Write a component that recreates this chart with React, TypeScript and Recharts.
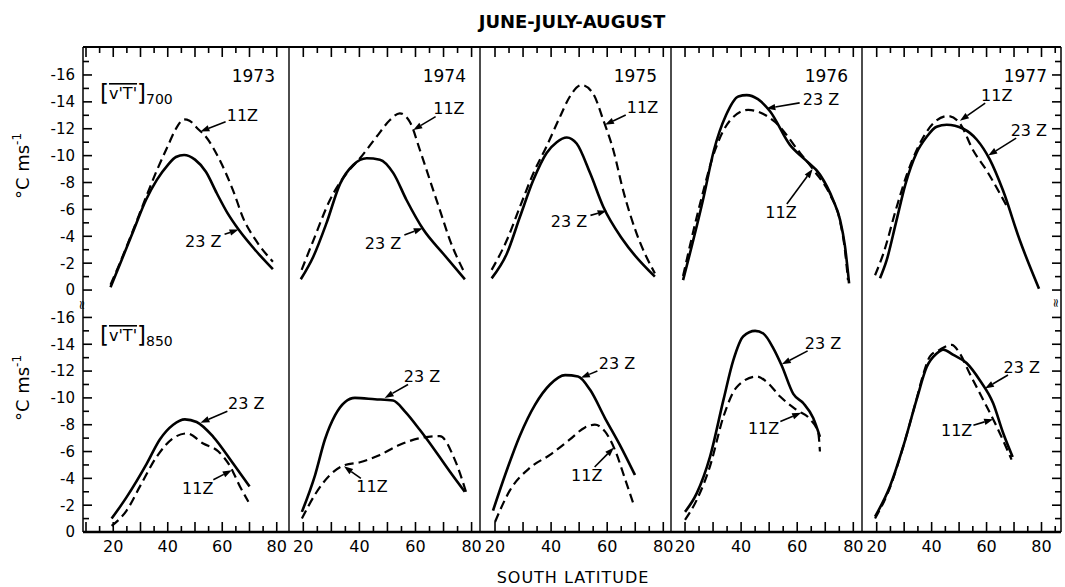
import React from 'react';
import { LineChart, Line, XAxis, YAxis, ReferenceLine } from 'recharts';

type Pt = [number, number];

// ---------- categories / labels ----------
const YEARS = ['1973', '1974', '1975', '1976', '1977'];
const LEVELS = ['700', '850'];
const X_TICK_LABELS = [20, 40, 60, 80];
const Y_TICK_LABELS = [-16, -14, -12, -10, -8, -6, -4, -2, 0];

// ---------- data: [south latitude, [v'T'] (°C m/s)] ----------
const V1973_700_23Z: Pt[] = [[19, -0.2], [22, -1.7], [27, -4.2], [32, -6.7], [36, -8.2], [40, -9.3], [43, -9.9], [46, -10.05], [50, -9.7], [54, -8.8], [58, -7.2], [62, -5.7], [66, -4.5], [72, -3.0], [78.6, -1.55]];
const V1973_700_11Z: Pt[] = [[19, -0.4], [22, -1.8], [27, -4.3], [32, -6.9], [36, -8.9], [40, -10.7], [43, -12.0], [46, -12.7], [48, -12.6], [51, -12.0], [54, -11.4], [59, -9.7], [64, -7.4], [68, -5.2], [72, -3.8], [78.6, -2.1]];
const V1973_850_23Z: Pt[] = [[19.4, -1.0], [24.9, -2.6], [32.3, -5.1], [37.1, -6.9], [42, -8.0], [46.3, -8.4], [50.6, -8.2], [56.7, -7.1], [64, -5.1], [70, -3.4]];
const V1973_850_11Z: Pt[] = [[19.4, -0.45], [24.9, -1.6], [29.8, -3.4], [35.9, -5.6], [42, -7.0], [47, -7.35], [53, -6.6], [58.6, -6.0], [62.9, -4.9], [66.5, -3.4], [69.6, -2.26]];

const V1974_700_23Z: Pt[] = [[19.1, -0.8], [23.6, -2.5], [28.3, -5.0], [33.1, -7.9], [37.8, -9.3], [42.6, -9.8], [47.3, -9.7], [52.1, -8.7], [56.8, -6.7], [62.8, -4.5], [69.9, -2.7], [77.6, -0.8]];
const V1974_700_11Z: Pt[] = [[19.4, -1.5], [23.6, -3.7], [29.5, -6.7], [35.5, -8.7], [40.2, -9.8], [46.1, -11.4], [50.9, -12.65], [54.4, -13.15], [58, -12.5], [61.6, -10.4], [65.1, -8.2], [68.7, -5.95], [72.3, -3.7], [77.6, -1.24]];
const V1974_850_23Z: Pt[] = [[19.5, -1.5], [24.2, -4.25], [27.7, -6.9], [31.3, -8.7], [34.9, -9.7], [38.4, -10.0], [45.5, -9.9], [52, -9.8], [56.2, -9.0], [61.6, -7.6], [66.9, -6.1], [72.3, -4.5], [77.6, -3.0]];
const V1974_850_11Z: Pt[] = [[19.5, -1.0], [24.2, -2.8], [29.5, -4.25], [34.9, -5.0], [40.2, -5.2], [47.3, -5.75], [54.4, -6.5], [61.6, -7.0], [68.7, -7.15], [74, -5.4], [78.3, -2.8]];

const V1975_700_23Z: Pt[] = [[18.8, -0.87], [24.2, -2.7], [28.9, -5.45], [33.7, -8.2], [38.4, -10.2], [42, -11.0], [45.6, -11.35], [49.1, -10.9], [53.9, -8.7], [58.6, -6.2], [65.7, -3.7], [77, -1.0]];
const V1975_700_11Z: Pt[] = [[18.8, -1.5], [24.2, -3.7], [28.9, -6.2], [33.7, -8.7], [38.4, -10.7], [43.2, -12.9], [46.7, -14.4], [50.9, -15.25], [55, -14.6], [58.6, -12.65], [62.2, -10.4], [65.7, -7.4], [70.5, -4.2], [77, -1.24]];
const V1975_850_23Z: Pt[] = [[19.3, -1.6], [23.6, -4.25], [28.9, -7.2], [34.3, -9.5], [39.6, -11.0], [45, -11.7], [49.6, -11.6], [53.9, -10.6], [59.2, -8.5], [64.5, -6.5], [69.9, -4.25]];
const V1975_850_11Z: Pt[] = [[20, -0.75], [25.3, -3.1], [32.5, -4.8], [39.6, -5.75], [46.7, -6.9], [52.1, -7.8], [55.6, -8.0], [59.2, -7.5], [62.8, -6.1], [66.3, -4.0], [69.2, -2.2]];

const V1976_700_23Z: Pt[] = [[19.3, -0.74], [26.4, -6.7], [30.3, -10.4], [34.6, -13.0], [39, -14.4], [42, -14.5], [46, -14.2], [50.3, -13.3], [57.4, -10.8], [62.8, -9.7], [68.1, -8.6], [72.8, -6.7], [75.3, -5.2], [77, -3.3], [78.5, -0.5]];
const V1976_700_11Z: Pt[] = [[19.3, -1.04], [25.7, -6.7], [30.7, -10.4], [36, -12.6], [42.5, -13.4], [52.1, -12.5], [61, -10.2], [66.3, -8.8], [71.7, -7.1], [75.3, -5.1], [77, -3.0], [78.1, -0.74]];
const V1976_850_23Z: Pt[] = [[20, -1.5], [24.2, -2.9], [28.9, -5.6], [33.7, -9.85], [37.2, -12.8], [40.8, -14.6], [45, -15.0], [47.9, -14.8], [51.5, -13.7], [54.5, -12.4], [58.6, -10.3], [62.2, -9.6], [65.7, -8.5], [68.1, -7.1]];
const V1976_850_11Z: Pt[] = [[20, -0.9], [24.2, -2.4], [28.9, -4.9], [33.7, -8.6], [38.4, -10.8], [45.6, -11.6], [49.1, -11.2], [53.9, -10.1], [59.8, -9.1], [64.6, -8.4], [67.5, -7.4], [68.1, -6.0]];

const V1977_700_23Z: Pt[] = [[21.2, -0.87], [23.6, -2.2], [27, -5.0], [30.5, -7.9], [34.5, -10.2], [38.2, -11.4], [41.8, -12.15], [45.5, -12.3], [51.5, -12.0], [56.4, -11.2], [61.2, -9.7], [66, -7.4], [72.1, -3.7], [79.1, -0.1]];
const V1977_700_11Z: Pt[] = [[19.4, -1.1], [22.4, -2.7], [27.3, -6.2], [31, -8.6], [35, -10.6], [40.6, -12.4], [46, -12.95], [50.3, -12.4], [55.1, -10.4], [60, -8.9], [64.8, -7.2], [68, -6.0]];
const V1977_850_23Z: Pt[] = [[19.4, -1.14], [24.8, -3.4], [29.7, -6.4], [34.5, -9.85], [38.2, -12.3], [41.8, -13.3], [44.2, -13.6], [47.9, -13.2], [52.7, -12.6], [57.6, -11.3], [62.4, -9.6], [66, -7.4], [69.5, -5.6]];
const V1977_850_11Z: Pt[] = [[19.4, -1.0], [24.8, -3.3], [29.7, -6.4], [34.5, -9.9], [37, -11.8], [39.4, -13.1], [43, -13.6], [47.3, -13.95], [50.3, -13.3], [53.9, -11.8], [58.8, -9.85], [63.6, -7.9], [69.1, -5.4]];

const SERIES: Record<string, { z23: Pt[]; z11: Pt[] }> = {
  '1973-700': { z23: V1973_700_23Z, z11: V1973_700_11Z },
  '1973-850': { z23: V1973_850_23Z, z11: V1973_850_11Z },
  '1974-700': { z23: V1974_700_23Z, z11: V1974_700_11Z },
  '1974-850': { z23: V1974_850_23Z, z11: V1974_850_11Z },
  '1975-700': { z23: V1975_700_23Z, z11: V1975_700_11Z },
  '1975-850': { z23: V1975_850_23Z, z11: V1975_850_11Z },
  '1976-700': { z23: V1976_700_23Z, z11: V1976_700_11Z },
  '1976-850': { z23: V1976_850_23Z, z11: V1976_850_11Z },
  '1977-700': { z23: V1977_700_23Z, z11: V1977_700_11Z },
  '1977-850': { z23: V1977_850_23Z, z11: V1977_850_11Z },
};

// ---------- annotations (data coords: label centre -> arrow head) ----------
type Ann = { text: string; x: number; y: number; hx: number; hy: number };
const NOTES: Record<string, Ann[]> = {
  '1973-700': [{ text: '11Z', x: 67.4, y: -13.0, hx: 52, hy: -11.8 }, { text: '23 Z', x: 53, y: -3.6, hx: 66, hy: -4.5 }],
  '1973-850': [{ text: '23 Z', x: 68.8, y: -9.6, hx: 52, hy: -8.15 }, { text: '11Z', x: 51, y: -3.3, hx: 63.5, hy: -4.6 }],
  '1974-700': [{ text: '11Z', x: 71.9, y: -13.5, hx: 59.2, hy: -11.9 }, { text: '23 Z', x: 48.4, y: -3.5, hx: 62.6, hy: -4.6 }],
  '1974-850': [{ text: '23 Z', x: 62.3, y: -11.6, hx: 49, hy: -10.0 }, { text: '11Z', x: 44.5, y: -3.4, hx: 34.5, hy: -4.9 }],
  '1975-700': [{ text: '11Z', x: 72.6, y: -13.6, hx: 59.2, hy: -12.3 }, { text: '23 Z', x: 46.4, y: -5.1, hx: 59.8, hy: -5.9 }],
  '1975-850': [{ text: '23 Z', x: 63.5, y: -12.6, hx: 50.6, hy: -11.5 }, { text: '11Z', x: 52.7, y: -4.25, hx: 62.4, hy: -6.3 }],
  '1976-700': [{ text: '23 Z', x: 68.5, y: -14.2, hx: 49, hy: -13.5 }, { text: '11Z', x: 54.2, y: -5.8, hx: 65.5, hy: -9.0 }],
  '1976-850': [{ text: '23 Z', x: 69.2, y: -14.1, hx: 54.5, hy: -12.5 }, { text: '11Z', x: 48, y: -7.7, hx: 61.4, hy: -8.9 }],
  '1977-700': [{ text: '11Z', x: 63.7, y: -14.5, hx: 50.3, hy: -12.6 }, { text: '23 Z', x: 75.4, y: -11.9, hx: 60.6, hy: -10.0 }],
  '1977-850': [{ text: '23 Z', x: 72.8, y: -12.3, hx: 59.4, hy: -10.7 }, { text: '11Z', x: 49.1, y: -7.6, hx: 62.4, hy: -8.4 }],
};

// ---------- layout ----------
const FONT = "'DejaVu Sans', sans-serif";
const PANEL_X = [
  { left: 83, right: 289, domain: [8.9, 84.5] },
  { left: 289, right: 480, domain: [14.9, 83] },
  { left: 480, right: 671, domain: [14.65, 82.75] },
  { left: 671, right: 862, domain: [15, 83.1] },
  { left: 862, right: 1061, domain: [14.65, 87.1] },
];
const ROW_Y = [
  { top: 47, bottom: 300, domain: [-18.08, 0.74] },
  { top: 300, bottom: 532, domain: [-17.3, 0] },
];
const PAD = 40;
const XH = 30;
const YW = 40;

const toData = (pts: Pt[]) => pts.map(([lat, v]) => ({ lat, v }));

const xTicksFor = (d: number[]) => {
  const out: number[] = [];
  for (let t = Math.ceil((d[0] + 1) / 5) * 5; t <= d[1] - 1; t += 5) out.push(t);
  return out;
};
const yTicksFor = (d: number[]) => {
  const out: number[] = [];
  for (let t = Math.ceil(d[0] + 0.5); t <= Math.floor(d[1]); t += 1) out.push(t);
  return out;
};

const xTick = (isTop: boolean) => (p: any) => {
  const { x, y, payload } = p;
  const v = payload.value;
  const len = v % 10 === 0 ? 10 : 6;
  const dir = isTop ? 1 : -1;
  return (
    <g>
      <line x1={x} y1={y} x2={x} y2={y + dir * len} stroke="#000" strokeWidth={1.6} />
      {!isTop && X_TICK_LABELS.includes(v) ? (
        <text x={x} y={y + 20} textAnchor="middle" fontSize={16} fontFamily={FONT} fill="#000">{v}</text>
      ) : null}
    </g>
  );
};

const yTick = (side: 'left' | 'right', withLabels: boolean) => (p: any) => {
  const { x, y, payload } = p;
  const v = payload.value;
  const len = v % 2 === 0 ? 9 : 6;
  const dir = side === 'left' ? 1 : -1;
  return (
    <g>
      <line x1={x} y1={y} x2={x + dir * len} y2={y} stroke="#000" strokeWidth={1.6} />
      {withLabels && Y_TICK_LABELS.includes(v) ? (
        <text x={x - 8} y={y} dy="0.36em" textAnchor="end" fontSize={15} fontFamily={FONT} fill="#000">{v}</text>
      ) : null}
    </g>
  );
};

const arrowShape = (label: string) => (props: any) => {
  const { x1, y1, x2, y2 } = props;
  if ([x1, y1, x2, y2].some((v) => typeof v !== 'number' || isNaN(v))) return <g />;
  const hw = label.length * 4.6 + 3;
  const hh = 8;
  const dx = x2 - x1;
  const dy = y2 - y1;
  const len = Math.hypot(dx, dy) || 1;
  const ux = dx / len;
  const uy = dy / len;
  const t = Math.min(Math.abs(ux) > 0.001 ? hw / Math.abs(ux) : 1e9, Math.abs(uy) > 0.001 ? hh / Math.abs(uy) : 1e9);
  const sx = x1 + ux * t;
  const sy = y1 + uy * t;
  const ah = 9;
  const aw = 3.2;
  const bx = x2 - ux * ah;
  const by = y2 - uy * ah;
  return (
    <g>
      <text x={x1} y={y1} dy="0.36em" textAnchor="middle" fontSize={16} fontFamily={FONT} fill="#000">{label}</text>
      <line x1={sx} y1={sy} x2={bx} y2={by} stroke="#000" strokeWidth={1.6} />
      <polygon points={`${x2},${y2} ${bx - uy * aw},${by + ux * aw} ${bx + uy * aw},${by - ux * aw}`} fill="#000" />
    </g>
  );
};

function Panel({ row, col }: { row: number; col: number }) {
  const px = PANEL_X[col];
  const ry = ROW_Y[row];
  const w = px.right - px.left;
  const h = ry.bottom - ry.top;
  const isTop = row === 0;
  const key = `${YEARS[col]}-${LEVELS[row]}`;
  const s = SERIES[key];
  const notes = NOTES[key];
  const margin = {
    top: isTop ? PAD - XH : PAD,
    bottom: isTop ? PAD : PAD - XH,
    left: col === 0 ? PAD - YW : PAD,
    right: col === 4 ? PAD - YW : PAD,
  };
  const yTicks = yTicksFor(ry.domain);
  return (
    <div style={{ position: 'absolute', left: px.left - PAD, top: ry.top - PAD }}>
      <LineChart width={w + 2 * PAD} height={h + 2 * PAD} margin={margin}>
        <XAxis
          type="number"
          dataKey="lat"
          domain={px.domain}
          allowDataOverflow
          orientation={isTop ? 'top' : 'bottom'}
          height={XH}
          ticks={xTicksFor(px.domain)}
          interval={0}
          tickLine={false}
          tickSize={0}
          tickMargin={0}
          tick={xTick(isTop)}
          axisLine={{ stroke: '#000', strokeWidth: isTop ? 1.8 : 2.4 }}
        />
        <YAxis
          yAxisId="l"
          type="number"
          domain={ry.domain}
          reversed
          allowDataOverflow
          width={col === 0 ? YW : 0}
          ticks={yTicks}
          interval={0}
          tickLine={false}
          tickSize={0}
          tickMargin={0}
          tick={col === 0 ? yTick('left', true) : false}
          axisLine={{ stroke: '#000', strokeWidth: 1.5 }}
        />
        {col === 4 ? (
          <YAxis
            yAxisId="r"
            orientation="right"
            type="number"
            domain={ry.domain}
            reversed
            allowDataOverflow
            width={YW}
            ticks={yTicks}
            interval={0}
            tickLine={false}
            tickSize={0}
            tickMargin={0}
            tick={yTick('right', false)}
            axisLine={{ stroke: '#000', strokeWidth: 1.5 }}
          />
        ) : null}
        {col > 0 ? (
          <ReferenceLine yAxisId="l" x={px.domain[0]} stroke="#000" strokeWidth={1.4} ifOverflow="visible" />
        ) : null}
        <Line
          yAxisId="l"
          data={toData(s.z11)}
          dataKey="v"
          type="monotone"
          stroke="#000"
          strokeWidth={2.2}
          strokeDasharray="9 5"
          dot={false}
          activeDot={false}
          isAnimationActive={false}
        />
        <Line
          yAxisId="l"
          data={toData(s.z23)}
          dataKey="v"
          type="monotone"
          stroke="#000"
          strokeWidth={2.6}
          dot={false}
          activeDot={false}
          isAnimationActive={false}
        />
        {notes.map((n, i) => (
          <ReferenceLine
            key={i}
            yAxisId="l"
            ifOverflow="visible"
            segment={[{ x: n.x, y: n.y }, { x: n.hx, y: n.hy }]}
            shape={arrowShape(n.text)}
          />
        ))}
      </LineChart>
    </div>
  );
}

function VTLabel({ x, y, sub }: { x: number; y: number; sub: string }) {
  return (
    <text x={x} y={y} fontFamily={FONT} fill="#000" fontSize={16}>
      <tspan fontSize={23} dy={2}>[</tspan>
      <tspan dy={-2} style={{ textDecoration: 'overline' }}>v'T'</tspan>
      <tspan fontSize={23} dy={2}>]</tspan>
      <tspan fontSize={14} dy={3}>{sub}</tspan>
    </text>
  );
}

function YTitle({ cx, cy }: { cx: number; cy: number }) {
  return (
    <text x={cx} y={cy} transform={`rotate(-90 ${cx} ${cy})`} textAnchor="middle" fontFamily={FONT} fontSize={18} fill="#000">
      °C ms<tspan fontSize={12} dy={-8}>-1</tspan>
    </text>
  );
}

export default function App() {
  const cells: JSX.Element[] = [];
  for (let r = 0; r < 2; r++) for (let c = 0; c < 5; c++) cells.push(<Panel key={`${r}-${c}`} row={r} col={c} />);
  return (
    <div style={{ position: 'absolute', left: 0, top: 0, width: 1065, height: 587, background: '#fff', overflow: 'hidden' }}>
      {cells}
      <svg width={1065} height={587} style={{ position: 'absolute', left: 0, top: 0, pointerEvents: 'none' }}>
        <text x={572} y={28} textAnchor="middle" fontFamily={FONT} fontWeight="bold" fontSize={18} fill="#000">JUNE-JULY-AUGUST</text>
        <text x={573} y={583} textAnchor="middle" fontFamily={FONT} fontSize={16} letterSpacing={1} fill="#000">SOUTH LATITUDE</text>
        <YTitle cx={29} cy={166} />
        <YTitle cx={29} cy={388} />
        <VTLabel x={100} y={99} sub="700" />
        <VTLabel x={100} y={341} sub="850" />
        {PANEL_X.map((p, i) => (
          <text key={i} x={p.right - 14} y={82} textAnchor="end" fontFamily={FONT} fontSize={17} fill="#000">{YEARS[i]}</text>
        ))}
        <text x={83} y={305} transform="rotate(90 83 305)" textAnchor="middle" dy="0.35em" fontFamily={FONT} fontSize={13} fill="#000">≈</text>
        <text x={1056} y={303} transform="rotate(90 1056 303)" textAnchor="middle" dy="0.35em" fontFamily={FONT} fontSize={12} fill="#000">≈</text>
      </svg>
    </div>
  );
}
